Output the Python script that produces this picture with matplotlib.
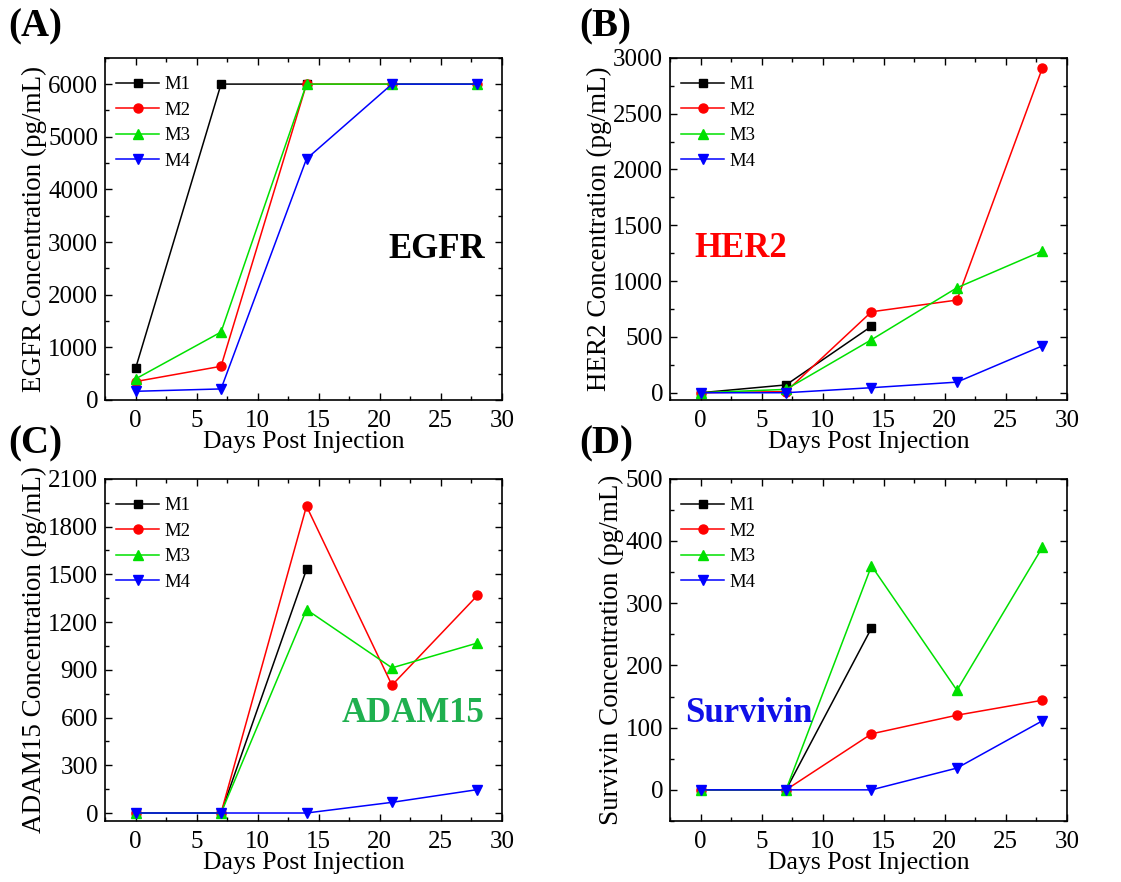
import matplotlib
matplotlib.use("Agg")
import matplotlib.pyplot as plt
from matplotlib.ticker import MultipleLocator

plt.rcParams['font.family'] = ['Liberation Serif', 'DejaVu Serif']

days = [0, 7, 14, 21, 28]
mice = ['M1', 'M2', 'M3', 'M4']

# concentrations (pg/mL); M1 only sampled up to day 14
egfr_m1 = [600, 6000, 6000]
egfr_m2 = [350, 640, 6000, 6000, 6000]
egfr_m3 = [400, 1290, 6000, 6000, 6000]
egfr_m4 = [165, 210, 4580, 6000, 6000]

her2_m1 = [0, 70, 595]
her2_m2 = [0, 10, 725, 830, 2910]
her2_m3 = [0, 30, 475, 940, 1270]
her2_m4 = [0, 0, 45, 95, 420]

adam15_m1 = [0, 0, 1530]
adam15_m2 = [0, 0, 1928, 803, 1367]
adam15_m3 = [0, 0, 1278, 912, 1068]
adam15_m4 = [0, 0, 0, 67, 147]

survivin_m1 = [0, 0, 260]
survivin_m2 = [0, 0, 90, 120, 144]
survivin_m3 = [0, 0, 360, 160, 390]
survivin_m4 = [0, 0, 0, 35, 111]

colors = ['black', '#ff0000', '#00e000', '#0000ff']
markers = ['s', 'o', '^', 'v']
msizes = [5.5, 6.5, 6.5, 6.5]


def draw_panel(ax, series, ylabel, ylim, ystep, yminor, tag, tag_color, tag_pos, tag_ha):
    for vals, name, c, m, ms in zip(series, mice, colors, markers, msizes):
        ax.plot(days[:len(vals)], vals, color=c, marker=m, markersize=ms,
                linewidth=1.1, label=name)
    ax.set_xlim(-2.5, 30)
    ax.set_ylim(*ylim)
    ax.xaxis.set_major_locator(MultipleLocator(5))
    ax.xaxis.set_minor_locator(MultipleLocator(2.5))
    ax.yaxis.set_major_locator(MultipleLocator(ystep))
    ax.yaxis.set_minor_locator(MultipleLocator(yminor))
    ax.tick_params(which='both', direction='in', top=True, right=True, labelsize=18)
    ax.tick_params(axis='x', pad=7.5)
    ax.tick_params(axis='y', pad=5)
    ax.tick_params(which='major', length=5, width=1)
    ax.tick_params(which='minor', length=3, width=1)
    for sp in ax.spines.values():
        sp.set_linewidth(1.2)
    ax.set_xlabel('Days Post Injection', fontsize=18.5, labelpad=-1)
    ax.set_ylabel(ylabel, fontsize=19.5, labelpad=1)
    ax.legend(loc='upper left', frameon=False, fontsize=13.5, handlelength=2.3,
              handletextpad=0.3, labelspacing=0.45, borderaxespad=0.4,
              bbox_to_anchor=(-0.01, 0.99))
    ax.text(tag_pos[0], tag_pos[1], tag, transform=ax.transAxes, color=tag_color,
            fontsize=25, fontweight='bold', ha=tag_ha, va='center')


fig = plt.figure(figsize=(11.21, 8.82), dpi=100)
w, h = 0.354, 0.388
axA = fig.add_axes([0.0937, 0.5465, w, h])
axB = fig.add_axes([0.5977, 0.5465, w, h])
axC = fig.add_axes([0.0937, 0.0692, w, h])
axD = fig.add_axes([0.5977, 0.0692, w, h])

draw_panel(axA, [egfr_m1, egfr_m2, egfr_m3, egfr_m4], 'EGFR Concentration (pg/mL)',
           (0, 6500), 1000, 500, 'EGFR', 'black', (0.957, 0.44), 'right')
draw_panel(axB, [her2_m1, her2_m2, her2_m3, her2_m4], 'HER2 Concentration (pg/mL)',
           (-65, 3000), 500, 250, 'HER2', '#ff0000', (0.061, 0.443), 'left')
draw_panel(axC, [adam15_m1, adam15_m2, adam15_m3, adam15_m4], 'ADAM15 Concentration (pg/mL)',
           (-50, 2100), 300, 150, 'ADAM15', '#1fb04f', (0.957, 0.313), 'right')
draw_panel(axD, [survivin_m1, survivin_m2, survivin_m3, survivin_m4], 'Survivin Concentration (pg/mL)',
           (-50, 500), 100, 50, 'Survivin', '#1010e8', (0.038, 0.313), 'left')

for lbl, x, y in [('(A)', 0.007, 0.969), ('(B)', 0.517, 0.969),
                  ('(C)', 0.007, 0.497), ('(D)', 0.517, 0.497)]:
    fig.text(x, y, lbl, fontsize=28, fontweight='bold', ha='left', va='center')

fig.savefig('out.png', dpi=100)
